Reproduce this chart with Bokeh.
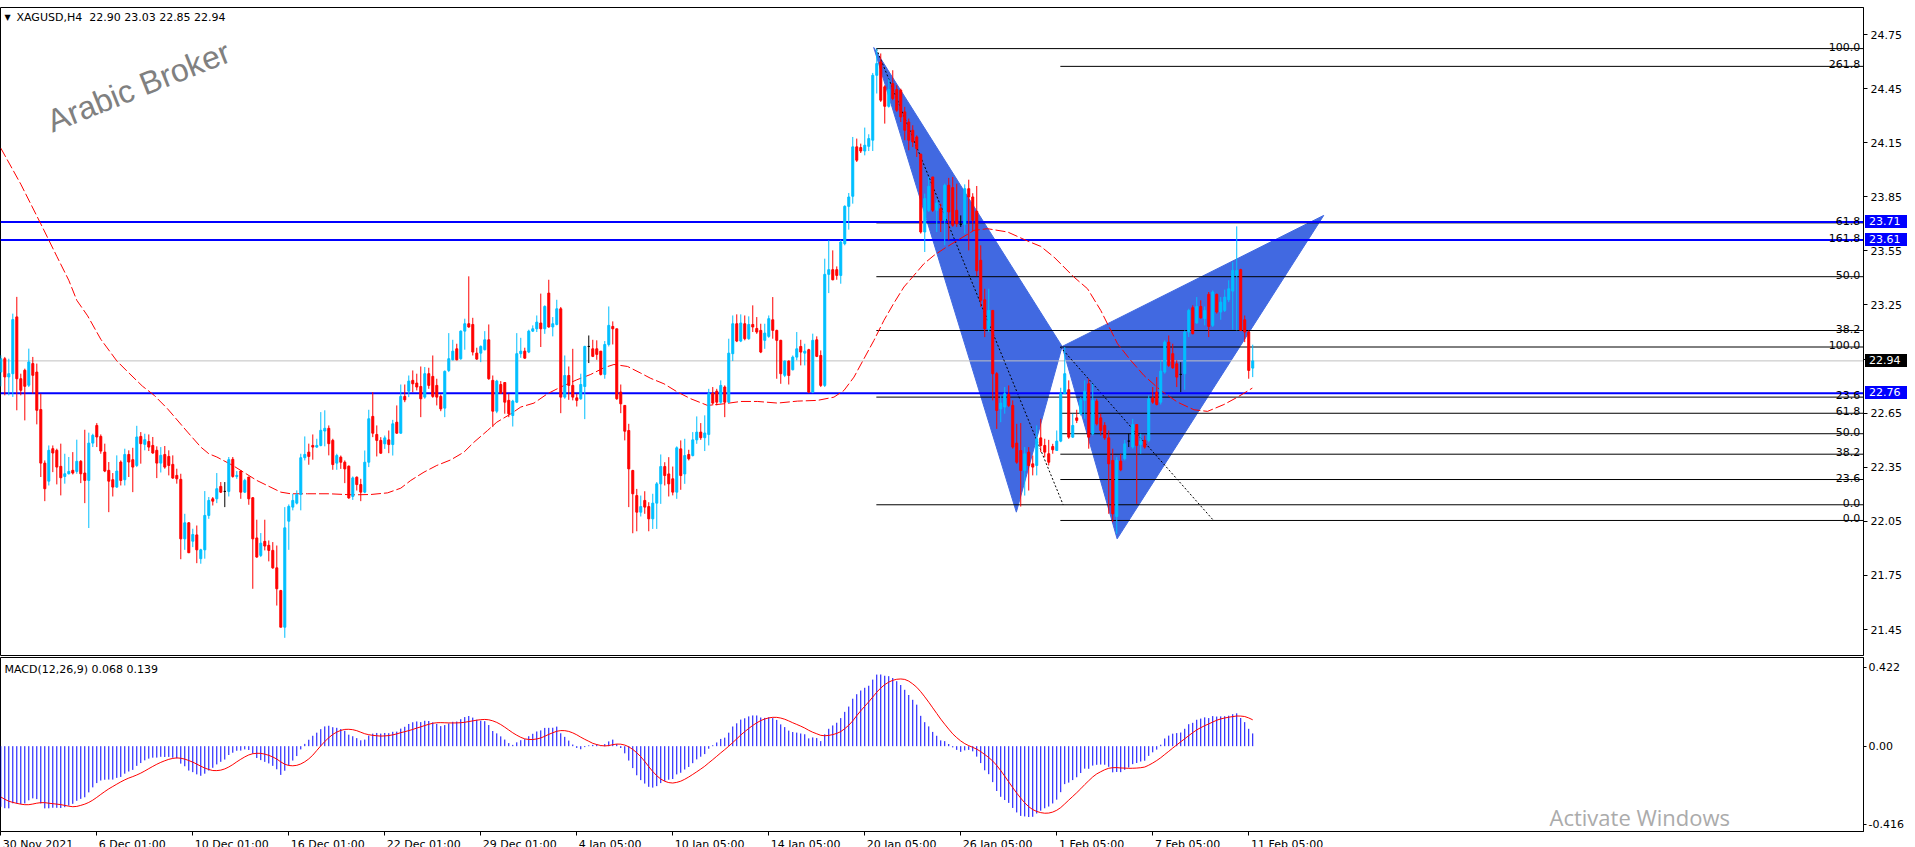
from bokeh.plotting import figure
from bokeh.models import Range1d, FixedTicker, Label, NumeralTickFormatter, Div
from bokeh.layouts import column
from bokeh.embed import file_html
from bokeh.resources import INLINE
from bokeh.core.properties import value

# ---------------- data (XAGUSD H4, bars 0..313) ----------------
opens = [
 22.878, 22.952, 22.851, 22.869, 23.184, 22.841, 22.888, 22.805, 22.925, 22.878,
 22.670, 22.373, 22.273, 22.453, 22.444, 22.355, 22.299, 22.314, 22.333, 22.327,
 22.383, 22.318, 22.277, 22.484, 22.582, 22.521, 22.434, 22.333, 22.281, 22.240,
 22.379, 22.281, 22.421, 22.392, 22.360, 22.521, 22.477, 22.493, 22.471, 22.444,
 22.373, 22.421, 22.410, 22.366, 22.305, 22.283, 21.953, 22.042, 21.940, 21.975,
 21.843, 21.892, 22.083, 22.175, 22.175, 22.244, 22.216, 22.216, 22.394, 22.299,
 22.329, 22.212, 22.296, 22.181, 21.958, 21.861, 21.939, 21.917, 21.889, 21.792,
 21.666, 21.463, 22.051, 22.129, 22.151, 22.199, 22.403, 22.434, 22.471, 22.462,
 22.471, 22.551, 22.566, 22.499, 22.373, 22.406, 22.378, 22.356, 22.188, 22.295,
 22.254, 22.212, 22.378, 22.632, 22.532, 22.499, 22.480, 22.502, 22.476, 22.600,
 22.539, 22.743, 22.772, 22.832, 22.817, 22.798, 22.739, 22.869, 22.854, 22.804,
 22.743, 22.678, 22.887, 22.946, 23.007, 22.952, 23.105, 23.146, 23.142, 22.983,
 22.983, 23.002, 23.057, 22.832, 22.661, 22.809, 22.820, 22.721, 22.637, 22.711,
 22.980, 22.994, 22.989, 23.105, 23.118, 23.150, 23.118, 23.316, 23.128, 23.142,
 23.229, 22.739, 22.859, 22.804, 22.735, 22.730, 22.798, 23.020, 23.007, 23.007,
 22.994, 22.865, 23.031, 23.131, 23.118, 22.767, 22.693, 22.554, 22.332, 22.193,
 22.101, 22.166, 22.132, 22.064, 22.151, 22.258, 22.354, 22.313, 22.286, 22.212,
 22.452, 22.313, 22.421, 22.415, 22.502, 22.545, 22.514, 22.532, 22.761, 22.772,
 22.711, 22.795, 22.711, 22.980, 23.146, 23.050, 23.146, 23.063, 23.142, 23.120,
 23.109, 23.054, 23.076, 23.168, 23.109, 23.054, 22.860, 22.939, 22.891, 22.961,
 23.020, 22.983, 23.002, 22.767, 23.057, 22.970, 22.804, 23.420, 23.446, 23.446,
 23.414, 23.590, 23.797, 23.853, 24.127, 24.123, 24.104, 24.130, 24.164, 24.524,
 24.598, 24.460, 24.352, 24.478, 24.445, 24.441, 24.321, 24.265, 24.219, 24.182,
 24.086, 23.655, 23.775, 23.960, 23.775, 23.784, 23.720, 23.914, 23.901, 23.775,
 23.697, 23.697, 23.895, 23.849, 23.770, 23.498, 23.279, 23.118, 23.220, 22.869,
 22.674, 22.684, 22.754, 22.693, 22.484, 22.443, 22.332, 22.434, 22.369, 22.360,
 22.513, 22.471, 22.425, 22.465, 22.443, 22.495, 22.758, 22.780, 22.517, 22.624,
 22.647, 22.721, 22.813, 22.536, 22.717, 22.624, 22.582, 22.513, 22.388, 22.077,
 22.384, 22.397, 22.495, 22.462, 22.587, 22.476, 22.499, 22.499, 22.735, 22.767,
 22.711, 22.878, 23.044, 22.980, 22.924, 22.865, 22.869, 23.100, 23.235, 23.150,
 23.242, 23.174, 23.309, 23.137, 23.309, 23.211, 23.220, 23.279, 23.327, 23.414,
 23.446, 23.168, 23.100, 22.900]

highs = [
 22.971, 22.962, 22.952, 23.202, 23.295, 22.869, 22.897, 23.008, 22.962, 22.925,
 22.758, 22.388, 22.471, 22.471, 22.453, 22.481, 22.425, 22.407, 22.434, 22.503,
 22.390, 22.558, 22.542, 22.536, 22.595, 22.532, 22.481, 22.379, 22.318, 22.416,
 22.388, 22.453, 22.444, 22.458, 22.580, 22.545, 22.536, 22.532, 22.518, 22.466,
 22.462, 22.468, 22.444, 22.416, 22.342, 22.314, 22.092, 22.046, 22.009, 22.027,
 21.898, 22.218, 22.185, 22.185, 22.318, 22.268, 22.268, 22.407, 22.407, 22.329,
 22.333, 22.286, 22.296, 22.185, 22.059, 21.985, 22.059, 21.944, 21.935, 21.916,
 21.670, 22.129, 22.144, 22.203, 22.222, 22.425, 22.521, 22.481, 22.532, 22.508,
 22.656, 22.666, 22.582, 22.508, 22.425, 22.415, 22.388, 22.360, 22.299, 22.299,
 22.286, 22.443, 22.669, 22.767, 22.582, 22.517, 22.526, 22.554, 22.613, 22.693,
 22.809, 22.809, 22.859, 22.887, 22.869, 22.909, 22.906, 22.902, 22.970, 22.841,
 22.754, 22.887, 23.094, 23.057, 23.035, 23.109, 23.174, 23.409, 23.179, 23.013,
 23.026, 23.105, 23.142, 22.859, 22.835, 22.828, 22.822, 22.758, 22.724, 23.094,
 23.068, 23.013, 23.113, 23.137, 23.192, 23.313, 23.248, 23.390, 23.183, 23.279,
 23.239, 22.970, 22.909, 23.007, 22.758, 22.869, 23.024, 23.081, 23.057, 23.054,
 22.994, 23.050, 23.242, 23.159, 23.118, 22.809, 22.693, 22.591, 22.336, 22.230,
 22.193, 22.217, 22.156, 22.203, 22.268, 22.421, 22.378, 22.406, 22.354, 22.466,
 22.499, 22.508, 22.447, 22.545, 22.632, 22.595, 22.638, 22.785, 22.795, 22.785,
 22.832, 22.804, 23.063, 23.192, 23.198, 23.198, 23.192, 23.187, 23.248, 23.183,
 23.146, 23.146, 23.192, 23.294, 23.113, 23.057, 22.943, 22.943, 22.970, 23.100,
 23.057, 23.035, 23.007, 23.091, 23.076, 22.998, 23.507, 23.609, 23.553, 23.464,
 23.612, 23.803, 23.871, 24.182, 24.173, 24.145, 24.234, 24.197, 24.537, 24.672,
 24.645, 24.469, 24.506, 24.552, 24.469, 24.450, 24.349, 24.284, 24.247, 24.191,
 24.090, 23.868, 23.960, 23.960, 23.834, 23.812, 23.923, 23.955, 23.960, 23.923,
 23.747, 23.919, 23.945, 23.870, 23.910, 23.581, 23.340, 23.340, 23.220, 22.878,
 22.748, 22.795, 22.804, 22.721, 22.591, 22.595, 22.462, 22.462, 22.415, 22.582,
 22.619, 22.508, 22.502, 22.480, 22.554, 22.791, 23.017, 22.832, 22.647, 22.669,
 22.739, 22.832, 22.841, 22.813, 22.730, 22.647, 22.600, 22.554, 22.453, 22.406,
 22.425, 22.502, 22.536, 22.619, 22.587, 22.536, 22.526, 22.748, 22.795, 22.850,
 22.943, 23.054, 23.081, 23.035, 22.943, 22.933, 23.109, 23.229, 23.248, 23.294,
 23.276, 23.242, 23.322, 23.331, 23.313, 23.294, 23.335, 23.387, 23.488, 23.686,
 23.451, 23.192, 23.109, 23.030]

lows = [
 22.799, 22.749, 22.749, 22.740, 22.666, 22.749, 22.610, 22.795, 22.758, 22.588,
 22.296, 22.162, 22.249, 22.323, 22.255, 22.194, 22.259, 22.310, 22.310, 22.314,
 22.262, 22.151, 22.013, 22.462, 22.462, 22.425, 22.323, 22.101, 22.188, 22.236,
 22.249, 22.249, 22.296, 22.212, 22.351, 22.370, 22.444, 22.440, 22.425, 22.290,
 22.321, 22.342, 22.305, 22.286, 22.259, 21.840, 21.892, 21.874, 21.907, 21.818,
 21.815, 21.843, 22.064, 22.138, 22.151, 22.207, 22.129, 22.188, 22.292, 22.286,
 22.175, 22.207, 22.142, 21.676, 21.848, 21.852, 21.889, 21.828, 21.787, 21.583,
 21.463, 21.404, 21.892, 22.111, 22.144, 22.111, 22.388, 22.364, 22.392, 22.458,
 22.466, 22.466, 22.416, 22.336, 22.336, 22.341, 22.262, 22.175, 22.169, 22.221,
 22.162, 22.206, 22.351, 22.517, 22.410, 22.425, 22.452, 22.428, 22.415, 22.536,
 22.536, 22.711, 22.739, 22.767, 22.776, 22.628, 22.730, 22.785, 22.735, 22.693,
 22.661, 22.628, 22.878, 22.943, 22.943, 22.946, 23.002, 23.124, 22.970, 22.946,
 22.933, 22.998, 22.835, 22.573, 22.650, 22.758, 22.647, 22.628, 22.576, 22.706,
 22.957, 22.952, 22.983, 23.100, 23.100, 23.017, 23.090, 23.124, 23.076, 23.137,
 22.650, 22.730, 22.724, 22.721, 22.687, 22.724, 22.617, 22.928, 22.961, 22.946,
 22.859, 22.841, 23.020, 23.031, 22.724, 22.650, 22.499, 22.129, 21.984, 21.995,
 22.077, 22.092, 21.995, 22.008, 22.008, 22.147, 22.249, 22.188, 22.194, 22.175,
 22.225, 22.258, 22.388, 22.410, 22.480, 22.502, 22.440, 22.471, 22.693, 22.693,
 22.702, 22.628, 22.706, 22.939, 23.044, 23.044, 23.054, 23.057, 23.100, 23.090,
 22.983, 23.007, 23.068, 23.063, 22.841, 22.813, 22.850, 22.809, 22.887, 22.943,
 22.915, 22.915, 22.761, 22.761, 22.961, 22.795, 22.795, 23.316, 23.387, 23.390,
 23.368, 23.581, 23.668, 23.812, 24.043, 24.093, 24.080, 24.104, 24.104, 24.423,
 24.376, 24.256, 24.345, 24.386, 24.321, 24.265, 24.164, 24.108, 24.126, 24.071,
 23.646, 23.544, 23.766, 23.766, 23.655, 23.655, 23.581, 23.609, 23.683, 23.683,
 23.683, 23.646, 23.553, 23.660, 23.410, 23.239, 23.072, 23.100, 22.721, 22.563,
 22.600, 22.647, 22.684, 22.453, 22.369, 22.132, 22.193, 22.221, 22.305, 22.305,
 22.434, 22.406, 22.360, 22.425, 22.440, 22.489, 22.758, 22.508, 22.513, 22.595,
 22.637, 22.619, 22.453, 22.526, 22.582, 22.526, 22.502, 22.092, 22.045, 21.981,
 22.328, 22.388, 22.462, 22.453, 22.147, 22.425, 22.453, 22.489, 22.702, 22.693,
 22.698, 22.869, 22.906, 22.896, 22.795, 22.767, 22.780, 23.072, 23.087, 23.146,
 23.174, 23.137, 23.072, 23.128, 23.202, 23.168, 23.211, 23.266, 23.113, 23.109,
 23.105, 23.044, 22.841, 22.850]

closes = [
 22.952, 22.851, 22.869, 23.169, 22.841, 22.777, 22.799, 22.934, 22.860, 22.666,
 22.373, 22.231, 22.444, 22.429, 22.351, 22.292, 22.314, 22.327, 22.318, 22.383,
 22.314, 22.277, 22.484, 22.527, 22.518, 22.440, 22.329, 22.273, 22.240, 22.329,
 22.277, 22.421, 22.379, 22.351, 22.518, 22.481, 22.503, 22.462, 22.429, 22.373,
 22.416, 22.351, 22.360, 22.290, 22.286, 21.953, 22.042, 21.876, 21.977, 21.892,
 21.892, 22.083, 22.166, 22.162, 22.231, 22.212, 22.216, 22.392, 22.299, 22.305,
 22.212, 22.277, 22.175, 21.953, 21.852, 21.929, 21.913, 21.889, 21.792, 21.676,
 21.463, 22.014, 22.133, 22.166, 22.199, 22.403, 22.421, 22.410, 22.462, 22.471,
 22.555, 22.566, 22.481, 22.365, 22.415, 22.378, 22.341, 22.180, 22.291, 22.254,
 22.212, 22.378, 22.619, 22.539, 22.499, 22.428, 22.513, 22.476, 22.591, 22.539,
 22.743, 22.724, 22.828, 22.813, 22.795, 22.730, 22.869, 22.804, 22.743, 22.739,
 22.674, 22.882, 22.952, 22.994, 22.946, 23.105, 23.146, 23.128, 22.989, 22.950,
 23.020, 23.057, 22.841, 22.661, 22.828, 22.761, 22.711, 22.647, 22.717, 22.980,
 22.994, 22.955, 23.105, 23.118, 23.155, 23.118, 23.242, 23.128, 23.146, 23.229,
 22.739, 22.859, 22.804, 22.739, 22.721, 22.809, 23.020, 23.020, 22.965, 22.976,
 22.865, 23.031, 23.137, 23.118, 22.730, 22.702, 22.550, 22.341, 22.203, 22.101,
 22.132, 22.129, 22.064, 22.151, 22.258, 22.354, 22.304, 22.258, 22.212, 22.458,
 22.304, 22.415, 22.397, 22.502, 22.545, 22.514, 22.540, 22.758, 22.706, 22.711,
 22.804, 22.711, 22.983, 23.146, 23.050, 23.150, 23.063, 23.142, 23.128, 23.100,
 22.989, 23.094, 23.174, 23.109, 23.054, 22.869, 22.939, 22.859, 22.961, 23.007,
 22.989, 22.994, 22.767, 23.054, 22.965, 22.804, 23.420, 23.446, 23.390, 23.414,
 23.599, 23.797, 23.849, 24.127, 24.053, 24.104, 24.136, 24.173, 24.524, 24.589,
 24.386, 24.352, 24.445, 24.395, 24.330, 24.293, 24.219, 24.164, 24.154, 24.117,
 23.655, 23.840, 23.908, 23.775, 23.816, 23.720, 23.914, 23.766, 23.692, 23.700,
 23.697, 23.895, 23.849, 23.720, 23.440, 23.276, 23.118, 23.220, 22.869, 22.665,
 22.706, 22.758, 22.693, 22.462, 22.378, 22.332, 22.425, 22.360, 22.351, 22.508,
 22.471, 22.434, 22.378, 22.447, 22.495, 22.758, 22.869, 22.517, 22.582, 22.610,
 22.724, 22.772, 22.517, 22.721, 22.591, 22.554, 22.513, 22.369, 22.092, 22.388,
 22.336, 22.480, 22.495, 22.587, 22.471, 22.495, 22.462, 22.730, 22.711, 22.698,
 22.883, 23.044, 22.915, 22.902, 22.850, 22.865, 23.100, 23.220, 23.091, 23.242,
 23.179, 23.220, 23.131, 23.322, 23.211, 23.266, 23.294, 23.340, 23.442, 23.442,
 23.109, 23.100, 22.887, 22.940]

# moving average (red dashed): bar index, price
ma_bars = [0, 5, 10, 14, 17, 19, 21.7, 25, 29, 31.7, 35.4, 38.3, 41.7, 46.7, 50, 52, 54, 58, 64, 70,
           72.5, 76.7, 82, 88, 92.5, 96.7, 100, 102.5, 105.8, 109, 112.5, 115.8, 118.3, 121.7, 124,
           127.5, 130, 133.3, 136.7, 140, 144, 147.5, 150.8, 153.3, 156.7, 160, 162.5, 165.8, 169.2,
           172.5, 176.7, 180.8, 185, 189.2, 194.2, 199.2, 204.2, 208.3, 210.8, 213.3, 215.8, 218.3,
           220.8, 223.3, 225.8, 228.3, 230.8, 233.3, 235.8, 239.2, 242, 243.3, 246.7, 251.7, 256.7,
           260, 263.3, 268.3, 271.7, 275, 279.2, 282.5, 285.8, 290, 294.2, 298.3, 301.7, 305.8,
           309.2, 312.9]
ma_vals = [24.12, 23.92, 23.70, 23.52, 23.387, 23.276, 23.19, 23.06, 22.94, 22.88, 22.80, 22.75,
           22.674, 22.545, 22.462, 22.425, 22.407, 22.36, 22.277, 22.212, 22.203, 22.203, 22.203,
           22.197, 22.199, 22.208, 22.234, 22.277, 22.323, 22.36, 22.391, 22.434, 22.489, 22.554,
           22.600, 22.646, 22.684, 22.706, 22.758, 22.795, 22.835, 22.865, 22.902, 22.920, 22.909,
           22.872, 22.843, 22.813, 22.767, 22.730, 22.693, 22.702, 22.715, 22.715, 22.706, 22.717,
           22.721, 22.739, 22.776, 22.850, 22.952, 23.054, 23.165, 23.261, 23.350, 23.414, 23.479,
           23.525, 23.562, 23.609, 23.646, 23.664, 23.673, 23.655, 23.605, 23.575, 23.516, 23.405,
           23.340, 23.220, 23.035, 22.943, 22.859, 22.776, 22.711, 22.669, 22.660, 22.698, 22.739,
           22.789]

# horizontal levels
blue_levels = [23.71, 23.61, 22.76]
last_price = 22.94

# Fibonacci objects: (bar1, price1) -> (bar2, price2), ratios shown
fibA_pts = [(218.9, 24.672), (265.6, 22.142)]
fibA_ratios = [1.0, 0.618, 0.5, 0.382, 0.236, 0.0]
fibB_pts = [(264.9, 23.017), (303.2, 22.055)]
fibB_ratios = [2.618, 1.618, 1.0, 0.618, 0.5, 0.382, 0.236, 0.0]

# harmonic pattern vertices X, A, B, C, D
pat_bars = [218.25, 253.9, 265.35, 279.1, 330.75]
pat_prices = [24.678, 22.101, 23.020, 21.953, 23.747]

price_ticks = [21.45, 21.75, 22.05, 22.35, 22.65, 22.95, 23.25, 23.55, 23.85, 24.15, 24.45, 24.75]
date_bars = [0, 24, 48, 72, 96, 120, 144, 168, 192, 216, 240, 264, 288, 312]
date_labels = ["30 Nov 2021", "6 Dec 01:00", "10 Dec 01:00", "16 Dec 01:00", "22 Dec 01:00",
               "29 Dec 01:00", "4 Jan 05:00", "10 Jan 05:00", "14 Jan 05:00", "20 Jan 05:00",
               "26 Jan 05:00", "1 Feb 05:00", "7 Feb 05:00", "11 Feb 05:00"]

# MACD(12,26,9) state before the first visible bar (estimated from the panel)
ema12_start = 23.30
ema26_start = 23.62
signal_seed = [-0.22, -0.24, -0.25, -0.26, -0.27, -0.28, -0.29, -0.31]

# ---------------- layout constants ----------------
FONT = "DejaVu Sans"
FW = 1863
MH = 648
DH = 174
TOP = 7
Y0, Y1 = 21.306, 24.90
X0, X1 = -0.075, 465.7
PXB = FW / (X1 - X0)
BULL = "#00BFFF"
BEAR = "#FF0000"

n = len(closes)
bars = list(range(n))
H = [max(h, o, c) for h, o, c in zip(highs, opens, closes)]
L = [min(l, o, c) for l, o, c in zip(lows, opens, closes)]
colors = [BULL if c > o else (BEAR if c < o else "black") for o, c in zip(opens, closes)]
tops = [max(o, c) for o, c in zip(opens, closes)]
bots = [min(o, c) for o, c in zip(opens, closes)]

main = figure(frame_width=FW, frame_height=MH, x_range=Range1d(X0, X1),
              y_range=Range1d(Y0, Y1), x_axis_location=None, y_axis_location="right",
              output_backend="svg", toolbar_location=None,
              min_border_left=0, min_border_right=52, min_border_top=TOP, min_border_bottom=1,
              background_fill_color="white", border_fill_color="white",
              outline_line_color="black", outline_line_width=1)
main.xgrid.visible = False
main.ygrid.visible = False
ya = main.yaxis[0]
ya.ticker = FixedTicker(ticks=price_ticks)
ya.formatter = NumeralTickFormatter(format="0.00")
ya.major_tick_out = 4
ya.major_tick_in = 0
ya.minor_tick_out = 0
ya.minor_tick_in = 0
ya.axis_line_color = "black"
ya.major_tick_line_color = "black"
ya.major_label_text_font = FONT
ya.major_label_text_font_size = "11px"
ya.major_label_text_color = "black"
ya.major_label_standoff = 3

# harmonic pattern triangles
tri_xs = [[pat_bars[0], pat_bars[1], pat_bars[2]], [pat_bars[2], pat_bars[3], pat_bars[4]]]
tri_ys = [[pat_prices[0], pat_prices[1], pat_prices[2]], [pat_prices[2], pat_prices[3], pat_prices[4]]]
main.patches(xs=tri_xs, ys=tri_ys, fill_color="#4169E1", line_color="#4169E1", line_width=1)

# current price line
main.segment(x0=[X0], y0=[last_price], x1=[X1], y1=[last_price], line_color="#C0C0C0", line_width=1)

# fibonacci levels
fib_x0, fib_y, fib_txt = [], [], []
for pts, ratios in ((fibA_pts, fibA_ratios), (fibB_pts, fibB_ratios)):
    (b1, p1), (b2, p2) = pts
    for r in ratios:
        fib_x0.append(min(b1, b2))
        fib_y.append(p2 + r * (p1 - p2))
        fib_txt.append(f"{r * 100:.1f}")
main.segment(x0=fib_x0, y0=fib_y, x1=[X1] * len(fib_y), y1=fib_y, line_color="black", line_width=1)
for pts in (fibA_pts, fibB_pts):
    main.line([pts[0][0], pts[1][0]], [pts[0][1], pts[1][1]], line_color="black",
              line_width=1, line_dash="2 2")

# blue horizontal lines
main.segment(x0=[X0] * 3, y0=blue_levels, x1=[X1] * 3, y1=blue_levels, line_color="#0000FF", line_width=2)

# moving average
main.line(ma_bars, ma_vals, line_color="#FF0000", line_width=1, line_dash="10 3")

# candles
main.segment(x0=bars, y0=L, x1=bars, y1=H, line_color=colors, line_width=1)
main.vbar(x=bars, width=0.5, top=tops, bottom=bots, fill_color=colors, line_color=colors, line_width=1)

# fib labels
main.text(x=[X1 - 0.8] * len(fib_y), y=fib_y, text=fib_txt, text_align="right",
          text_baseline="alphabetic", y_offset=-2, text_font=value(FONT),
          text_font_size=value("11px"), text_color="black")

# header and watermark
main.add_layout(Label(x=4, y=MH - 10, x_units="screen", y_units="screen", text="\u25BC",
                      text_font=FONT, text_font_size="8px", text_baseline="middle", text_color="black"))
main.add_layout(Label(x=16, y=MH - 10, x_units="screen", y_units="screen",
                      text="XAGUSD,H4\u00a0 22.90 23.03 22.85 22.94",
                      text_font=FONT, text_font_size="11px", text_baseline="middle", text_color="black"))
main.add_layout(Label(x=48, y=MH - 115, x_units="screen", y_units="screen", text="Arabic Broker",
                      angle=0.38, text_font="Liberation Sans", text_font_size="32px",
                      text_color="#808080", text_baseline="alphabetic"))

# price boxes over the price axis (HTML, positioned on the axis strip)
boxes = []
for lvl, bg in ((23.71, "#0000FF"), (23.61, "#0000FF"), (22.76, "#0000FF"), (last_price, "#000000")):
    yc = TOP + (Y1 - lvl) / (Y1 - Y0) * MH
    boxes.append(Div(text=f"{lvl:.2f}", margin=0,
                     styles={"position": "absolute", "left": f"{FW + 2}px", "top": f"{yc - 6.5:.1f}px",
                             "width": "42px", "height": "13px", "background-color": bg,
                             "color": "white", "font-family": FONT, "font-size": "11px",
                             "line-height": "13px", "padding-left": "4px", "box-sizing": "border-box",
                             "z-index": "10", "overflow": "hidden"}))

# ---------------- MACD ----------------
ema12, ema26 = ema12_start, ema26_start
macd_main = []
for c in closes:
    ema12 += (c - ema12) * 2.0 / 13.0
    ema26 += (c - ema26) * 2.0 / 27.0
    macd_main.append(ema12 - ema26)
win = signal_seed + macd_main
macd_signal = [sum(win[i:i + 9]) / 9.0 for i in range(n)]

macd = figure(frame_width=FW, frame_height=DH, x_range=main.x_range, y_range=Range1d(-0.456, 0.474),
              y_axis_location="right", x_axis_location="below", output_backend="svg",
              toolbar_location=None, min_border_left=0, min_border_right=52, min_border_top=1,
              min_border_bottom=16, background_fill_color="white", border_fill_color="white",
              outline_line_color="black", outline_line_width=1)
macd.xgrid.visible = False
macd.ygrid.visible = False
macd.segment(x0=bars, y0=[0] * n, x1=bars, y1=macd_main, line_color="#0000FF", line_width=1)
macd.line(bars, macd_signal, line_color="#FF0000", line_width=1)

my = macd.yaxis[0]
my.ticker = FixedTicker(ticks=[0.422, 0.0, -0.416])
my.major_label_overrides = {0.422: "0.422", 0.0: "0.00", -0.416: "-0.416"}
my.major_tick_out = 3
my.major_tick_in = 0
my.axis_line_color = "black"
my.major_label_text_font = FONT
my.major_label_text_font_size = "11px"
my.major_label_text_color = "black"
my.major_label_standoff = 2

CW = {"0": .636, "1": .636, "2": .636, "3": .636, "4": .636, "5": .636, "6": .636, "7": .636,
      "8": .636, "9": .636, " ": .318, ":": .337, "N": .748, "o": .612, "v": .592, "D": .770,
      "e": .615, "c": .550, "J": .295, "a": .613, "n": .634, "F": .575, "b": .635}
centers = []
for b, t in zip(date_bars, date_labels):
    w = 11 * sum(CW.get(ch, 0.6) for ch in t)
    centers.append(round(b + (2 + w / 2) / PXB, 4))
mx = macd.xaxis[0]
mx.ticker = FixedTicker(ticks=centers, minor_ticks=date_bars)
mx.major_label_overrides = {c: t for c, t in zip(centers, date_labels)}
mx.major_tick_out = 0
mx.major_tick_in = 0
mx.minor_tick_out = 4
mx.minor_tick_in = 0
mx.minor_tick_line_color = "black"
mx.axis_line_color = "black"
mx.major_label_text_font = FONT
mx.major_label_text_font_size = "11px"
mx.major_label_text_color = "black"
mx.major_label_standoff = 2

macd.add_layout(Label(x=4, y=DH - 12, x_units="screen", y_units="screen",
                      text="MACD(12,26,9) 0.068 0.139", text_font=FONT, text_font_size="11px",
                      text_baseline="middle", text_color="black"))
macd.add_layout(Label(x=1549, y=0, x_units="screen", y_units="screen", text="Activate Windows",
                      text_font="Open Sans", text_font_size="22px", text_color="#ABABAB",
                      text_baseline="bottom"))

layout = column(main, macd, *boxes, spacing=0, styles={"position": "relative"})
open("out.html", "w").write(file_html(layout, INLINE))
